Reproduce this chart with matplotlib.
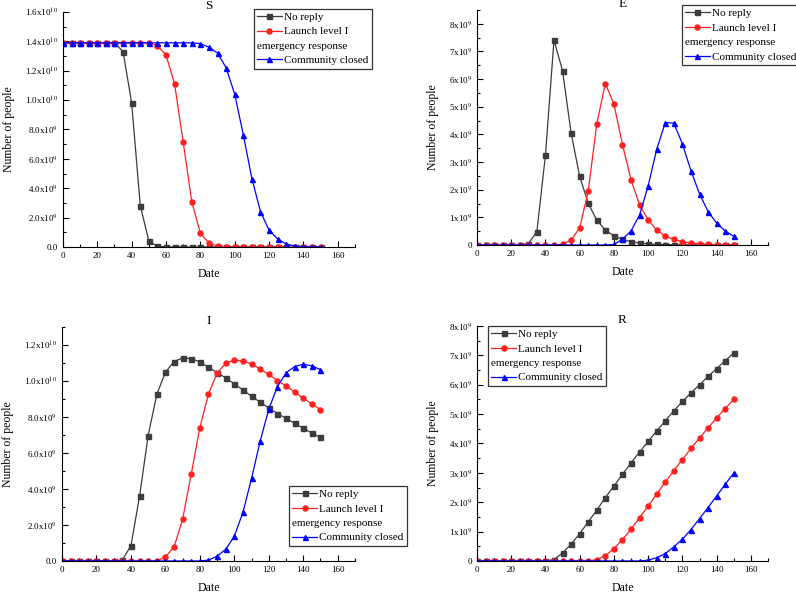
import numpy as np
import matplotlib
matplotlib.use("Agg")
import matplotlib.pyplot as plt
from matplotlib.ticker import MultipleLocator, FuncFormatter
from matplotlib.lines import Line2D

plt.rcParams['font.family'] = ['Liberation Serif', 'DejaVu Serif']
plt.rcParams['mathtext.fontset'] = 'stix'

# days, one marker every 5 days
days = np.arange(0, 151, 5)

labels = ["No reply", "Launch level I", " ", "Community closed"]
second_line = "emergency response"
colors = ['#3c3c3c', '#ff2020', '#0000ff']
markers = ['s', 'o', '^']

# values in units of 1e9 people
s_no_reply = [13.9] * 7 + [13.3, 9.8, 2.82, 0.41, 0.05, 0.01] + [0.0] * 18
s_level1 = [13.9] * 11 + [13.7, 13.07, 11.1, 7.14, 3.07, 0.95, 0.27, 0.07, 0.02] + [0.0] * 11
s_closed = [13.9] * 16 + [13.85, 13.6, 13.2, 12.2, 10.4, 7.64, 4.66, 2.41, 1.14,
                          0.55, 0.2, 0.07, 0.03, 0.01, 0.005]

e_no_reply = [0.0] * 6 + [0.05, 0.48, 3.25, 7.41, 6.3, 4.05, 2.48, 1.51, 0.9, 0.54,
                          0.33, 0.2, 0.12, 0.07, 0.04, 0.025, 0.015, 0.01] + [0.005] * 7
e_level1 = [0.0] * 10 + [0.03, 0.18, 0.62, 1.95, 4.39, 5.84, 5.1, 3.63, 2.36, 1.45, 0.91,
                         0.54, 0.33, 0.2, 0.12, 0.07, 0.04, 0.025, 0.015, 0.01, 0.005]
e_closed = [0.0] * 16 + [0.02, 0.21, 0.51, 1.09, 2.14, 3.46, 4.43, 4.41, 3.66, 2.69,
                         1.85, 1.21, 0.79, 0.51, 0.31]

i_no_reply = [0.0] * 7 + [0.05, 0.85, 3.59, 6.97, 9.25, 10.48, 11.08, 11.28, 11.24, 11.06,
                          10.76, 10.47, 10.17, 9.84, 9.5, 9.15, 8.82, 8.5, 8.19, 7.93,
                          7.64, 7.38, 7.1, 6.86]
i_level1 = [0.0] * 12 + [0.22, 0.78, 2.31, 4.84, 7.41, 9.28, 10.43, 10.98, 11.17, 11.11,
                         10.95, 10.67, 10.36, 10.02, 9.73, 9.39, 9.04, 8.73, 8.41]
i_closed = [0.0] * 17 + [0.05, 0.26, 0.65, 1.37, 2.7, 4.59, 6.66, 8.43, 9.69, 10.45,
                         10.8, 10.93, 10.84, 10.63]

r_no_reply = [0.0] * 9 + [0.05, 0.27, 0.57, 0.93, 1.33, 1.73, 2.16, 2.55, 2.95, 3.34, 3.71,
                          4.07, 4.43, 4.77, 5.11, 5.43, 5.72, 6.0, 6.28, 6.55, 6.82, 7.08]
r_level1 = [0.0] * 14 + [0.05, 0.18, 0.42, 0.73, 1.08, 1.48, 1.87, 2.28, 2.68, 3.08, 3.45,
                         3.83, 4.19, 4.53, 4.87, 5.19, 5.5]
r_closed = [0.0] * 20 + [0.03, 0.11, 0.25, 0.48, 0.74, 1.07, 1.44, 1.82, 2.21, 2.61, 2.99]


def sci_fmt(decimals):
    def f(v, pos):
        if v == 0:
            return "0.0" if decimals else "0"
        exp = int(np.floor(np.log10(abs(v)) + 1e-9))
        mant = v / 10 ** exp
        return "%.*fx10$^{%d}$" % (decimals, mant, exp)
    return f


fig = plt.figure(figsize=(7.96, 5.93), dpi=100)

panels = [
    # title, series, rect, ylim, ymajor, decimals, legend anchor
    ("S", [s_no_reply, s_level1, s_closed], [0.0791, 0.5835, 0.3668, 0.3963], 16, 2, 1, (0.654, 1.013)),
    ("E", [e_no_reply, e_level1, e_closed], [0.5992, 0.5868, 0.3656, 0.3963], 8.5, 1, 0, (0.704, 1.021)),
    ("I", [i_no_reply, i_level1, i_closed], [0.0779, 0.0540, 0.3680, 0.3946], 13, 2, 1, (0.775, 0.3205)),
    ("R", [r_no_reply, r_level1, r_closed], [0.5992, 0.0540, 0.3656, 0.3963], 8, 1, 0, (0.038, 1.000)),
]

fs_leg = 8
hl = 2.2
htp = 0.2
ms = 3.6
lw = 0.9

for title, series, rect, ytop, ymaj, dec, anchor in panels:
    ax = fig.add_axes(rect)
    for vals, c, m in zip(series, colors, markers):
        ax.plot(days, np.array(vals) * 1e9, color=c, marker=m, markersize=ms,
                linewidth=lw)

    ax.set_xlim(0, 170)
    ax.set_ylim(0, ytop * 1e9)
    ax.xaxis.set_major_locator(MultipleLocator(20))
    ax.xaxis.set_minor_locator(MultipleLocator(10))
    ax.yaxis.set_major_locator(MultipleLocator(ymaj * 1e9))
    ax.yaxis.set_minor_locator(MultipleLocator(ymaj * 1e9 / 2))
    ax.yaxis.set_major_formatter(FuncFormatter(sci_fmt(dec)))
    ax.tick_params(which='both', direction='in', labelsize=6.5, width=0.8)
    ax.tick_params(which='major', length=4)
    ax.tick_params(which='minor', length=2)
    ax.spines['top'].set_visible(False)
    ax.spines['right'].set_visible(False)

    ax.set_title(title, fontsize=9.5, pad=1)
    ax.set_xlabel("Date", fontsize=8.5, labelpad=6)
    ax.set_ylabel("Number of people", fontsize=8.5, labelpad=7)

    handles = [Line2D([], [], color=colors[0], marker=markers[0], markersize=ms, linewidth=lw),
               Line2D([], [], color=colors[1], marker=markers[1], markersize=ms, linewidth=lw),
               Line2D([], [], linestyle='none', marker='none'),
               Line2D([], [], color=colors[2], marker=markers[2], markersize=ms, linewidth=lw)]
    leg = ax.legend(handles, labels, loc='upper left', bbox_to_anchor=anchor,
                    fontsize=fs_leg, frameon=True, fancybox=False, edgecolor='#333333',
                    framealpha=1, borderpad=0.3, labelspacing=0.42,
                    handlelength=hl, handletextpad=htp, borderaxespad=0,
                    numpoints=1)
    leg.get_frame().set_linewidth(0.9)
    # second line of the "Launch level I" label starts under the handles
    ax.annotate(second_line, xy=(0, 0), xycoords=leg.get_texts()[2],
                xytext=(-(hl + htp) * fs_leg, 0), textcoords='offset points',
                ha='left', va='bottom', fontsize=fs_leg, zorder=6,
                annotation_clip=False)

fig.savefig("out.png", dpi=100)
